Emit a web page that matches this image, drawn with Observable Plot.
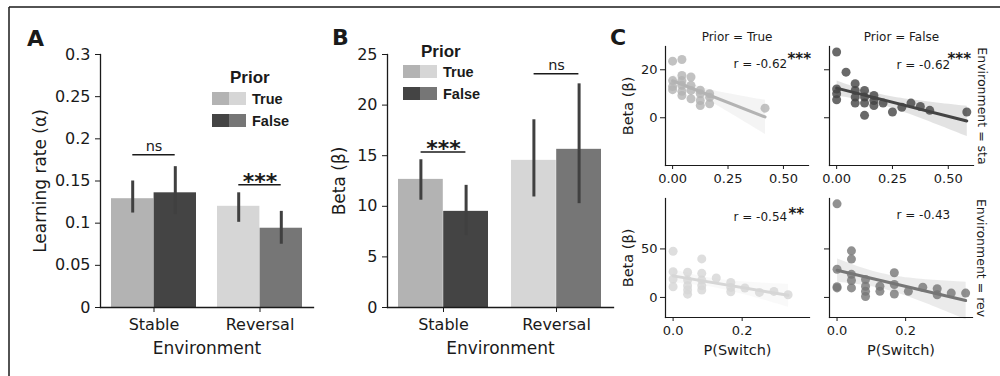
<!DOCTYPE html>
<html>
<head>
<meta charset="utf-8">
<script src="https://cdn.jsdelivr.net/npm/d3@7"></script>
<script src="https://cdn.jsdelivr.net/npm/@observablehq/plot@0.6"></script>
<style>
  body { margin: 0; background: #fff; }
  #fig { position: relative; width: 1000px; height: 376px; overflow: hidden; background: #fff; color: #1a1a1a; font-family: "DejaVu Sans", sans-serif; }
  #fig svg { background: transparent; }
</style>
</head>
<body>
<div id="fig"></div>
<script>
// ---------------- DATA ----------------
const envs = ["Stable", "Reversal"];
const priors = ["True", "False"];
// order: Stable-True, Stable-False, Reversal-True, Reversal-False
const barColors = ["#b3b3b3", "#444444", "#d6d6d6", "#767676"];

const alphaMean = [0.129, 0.136, 0.120, 0.094];
const alphaLo   = [0.112, 0.110, 0.101, 0.075];
const alphaHi   = [0.150, 0.167, 0.136, 0.114];
const alphaTicks = [0, 0.05, 0.1, 0.15, 0.2, 0.25, 0.3];
const alphaSig   = ["ns", "***"];
const alphaSigY  = [0.181, 0.1456];

const betaMean = [12.66, 9.5, 14.54, 15.63];
const betaLo   = [10.6, 7.1, 10.92, 10.26];
const betaHi   = [14.6, 12.07, 18.55, 22.1];
const betaTicks = [0, 5, 10, 15, 20, 25];
const betaSig   = ["***", "ns"];
const betaSigY  = [15.36, 23.1];

// Panel C scatter data: P(Switch) vs Beta
const staTrueX = [0, 0, 0, 0, 0.042, 0.042, 0.042, 0.042, 0.042, 0.042, 0.083, 0.083, 0.083, 0.083, 0.125, 0.125, 0.125, 0.125, 0.167, 0.167, 0.167, 0.417];
const staTrueY = [23.6, 15.5, 13, 11.7, 24.3, 17.6, 15.5, 13.5, 11, 9.3, 17, 13.5, 11.4, 7.9, 11.5, 10, 7.2, 5.1, 10, 8.5, 5.8, 4.0];
const staFalseX = [0, 0, 0, 0, 0.042, 0.083, 0.083, 0.083, 0.083, 0.125, 0.125, 0.125, 0.125, 0.167, 0.167, 0.167, 0.208, 0.25, 0.292, 0.333, 0.375, 0.417, 0.583];
const staFalseY = [27.4, 12, 10, 7.5, 19, 14.2, 11.4, 8.6, 6.1, 11.4, 8.6, 6.1, 1.0, 9.3, 7.2, 5.1, 6.1, 2.4, 4.4, 6.1, 4.7, 3.1, 2.4];
const revTrueX = [0, 0, 0, 0, 0.042, 0.042, 0.042, 0.042, 0.042, 0.083, 0.083, 0.083, 0.083, 0.083, 0.125, 0.167, 0.167, 0.167, 0.208, 0.25, 0.292, 0.333];
const revTrueY = [47.6, 26.6, 19, 11, 25.9, 17.9, 12, 7.6, 3.4, 39.7, 24.8, 17.9, 12, 7.6, 20, 15.5, 10.3, 5.9, 9.7, 5.2, 6.2, 2.8];
const revFalseX = [0, 0, 0, 0, 0.042, 0.042, 0.042, 0.042, 0.042, 0.083, 0.083, 0.083, 0.083, 0.125, 0.125, 0.167, 0.167, 0.167, 0.208, 0.25, 0.292, 0.292, 0.333, 0.375];
const revFalseY = [96.5, 29, 11, 9.8, 48, 39.5, 23.8, 17.5, 9.8, 18.5, 11.5, 6.3, 1, 11.5, 6.3, 25.5, 13.3, 3.5, 6.3, 10.5, 9, 2.8, 4.5, 4.5];
const rTexts = ["r = -0.62", "r = -0.62", "r = -0.54", "r = -0.43"];
const rStars = ["***", "***", "**", ""];
const topXTicks = [0, 0.25, 0.5];
const botXTicks = [0, 0.2];
const topYTicks = [0, 20];
const botYTicks = [0, 50];

// ---------------- HELPERS ----------------
const fig = document.getElementById("fig");
const INK = "#1a1a1a";
function place(el, left, top) {
  const d = document.createElement("div");
  d.style.cssText = `position:absolute;left:${left}px;top:${top}px;`;
  d.appendChild(el);
  fig.appendChild(d);
}

function barPanel(o) {
  const w = o.width - o.mL - o.mR;
  const pi = 0.2, po = 0.1;
  const bw = w / (envs.length - pi + 2 * po) * (1 - pi);
  const rows = [];
  envs.forEach((env, e) => priors.forEach((prior, p) => {
    const k = e * 2 + p;
    rows.push({env, prior, key: env + "|" + prior, value: o.mean[k], lo: o.lo[k], hi: o.hi[k]});
  }));
  const keys = rows.map(r => r.key);
  const sigRows = envs.map((env, i) => ({env, y: o.sigY[i], label: o.sig[i]}));
  const T = rows.filter(r => r.prior === "True"), F = rows.filter(r => r.prior === "False");
  return Plot.plot({
    width: o.width, height: o.height,
    marginLeft: o.mL, marginRight: o.mR, marginTop: o.mT, marginBottom: o.mB,
    style: {fontFamily: "DejaVu Sans", background: "transparent", color: INK, overflow: "visible"},
    x: {type: "band", domain: envs, paddingInner: pi, paddingOuter: po},
    y: {domain: o.yDomain},
    color: {domain: keys, range: barColors},
    marks: [
      Plot.barY(T, {x: "env", y: "value", fill: "key", insetLeft: 0, insetRight: bw / 2}),
      Plot.barY(F, {x: "env", y: "value", fill: "key", insetLeft: bw / 2, insetRight: 0}),
      Plot.ruleX(T, {x: "env", y1: "lo", y2: "hi", dx: -bw / 4, stroke: "#404040", strokeWidth: 3}),
      Plot.ruleX(F, {x: "env", y1: "lo", y2: "hi", dx: bw / 4, stroke: "#404040", strokeWidth: 3}),
      Plot.tickY(sigRows, {x: "env", y: "y", insetLeft: bw / 4, insetRight: bw / 4, stroke: INK, strokeWidth: 1.5}),
      Plot.text(sigRows.filter(d => d.label === "ns"), {x: "env", y: "y", text: "label", lineAnchor: "bottom", dy: -4, fontSize: 14.5, fill: INK}),
      Plot.text(sigRows.filter(d => d.label !== "ns"), {x: "env", y: "y", text: "label", lineAnchor: "middle", dy: -3, fontSize: 22, fontWeight: "bold", fill: INK}),
      Plot.axisY({ticks: o.yTicks, tickFormat: d => String(d), tickSize: 5, tickPadding: 5, label: null, fontSize: 16}),
      Plot.axisX({tickSize: 5, tickPadding: 6, label: null, fontSize: 16}),
      Plot.frame({anchor: "left", stroke: INK, strokeWidth: 1.3}),
      Plot.frame({anchor: "bottom", stroke: INK, strokeWidth: 1.3}),
      Plot.text([o.yLabel], {text: d => d, frameAnchor: "left", textAnchor: "middle", lineAnchor: "middle", rotate: -90, dx: o.yLabelDx, fontSize: 17, fill: INK}),
      Plot.text(["Environment"], {text: d => d, frameAnchor: "bottom", textAnchor: "middle", lineAnchor: "middle", dy: 41, fontSize: 17, fill: INK})
    ]
  });
}

function scatterPanel(o) {
  const data = o.xs.map((x, i) => ({x, y: o.ys[i]}));
  const marks = [
    Plot.dot(data, {x: "x", y: "y", r: 4.5, fill: o.color, fillOpacity: 0.8, stroke: "none"}),
    Plot.linearRegressionY(data, {x: "x", y: "y", stroke: o.line, strokeWidth: 3, fill: o.line, fillOpacity: 0.15, ci: 0.95}),
    Plot.axisX({ticks: o.xTicks, tickFormat: o.xFmt, tickSize: 4, tickPadding: 4, label: null, fontSize: 13}),
    Plot.axisY({ticks: o.yTicks, tickFormat: o.showY ? (d => String(d)) : (() => ""), tickSize: 5, tickPadding: 3, label: null, fontSize: 13}),
    Plot.frame({anchor: "left", stroke: INK, strokeWidth: 1.2}),
    Plot.frame({anchor: "bottom", stroke: INK, strokeWidth: 1.2}),
    Plot.text([o.rText], {text: d => d, frameAnchor: "top-left", textAnchor: "start", lineAnchor: "middle", dx: o.rDx, dy: o.rDy, fontSize: 12, fill: INK})
  ];
  if (o.stars) marks.push(Plot.text([o.stars], {text: d => d, frameAnchor: "top-left", textAnchor: "start", lineAnchor: "middle", dx: o.sDx, dy: o.sDy, fontSize: 15, fontWeight: "bold", fill: INK}));
  if (o.header) marks.push(Plot.text([o.header], {text: d => d, frameAnchor: "top", textAnchor: "middle", lineAnchor: "bottom", dy: -6, fontSize: 12, fill: INK}));
  if (o.rowLabel) marks.push(Plot.text([o.rowLabel], {text: d => d, frameAnchor: "right", textAnchor: "middle", lineAnchor: "middle", rotate: 90, dx: 8, fontSize: 12.5, fill: INK}));
  if (o.showY) marks.push(Plot.text(["Beta (β)"], {text: d => d, frameAnchor: "left", textAnchor: "middle", lineAnchor: "middle", rotate: -90, dx: -37, fontSize: 14.5, fill: INK}));
  if (o.xLabel) marks.push(Plot.text([o.xLabel], {text: d => d, frameAnchor: "bottom", textAnchor: "middle", lineAnchor: "middle", dy: 33, fontSize: 14.5, fill: INK}));
  return Plot.plot({
    width: o.width, height: o.height,
    marginLeft: o.mL, marginRight: o.mR, marginTop: o.mT, marginBottom: o.mB,
    style: {fontFamily: "DejaVu Sans", background: "transparent", color: INK, overflow: "visible"},
    x: {domain: o.xDomain},
    y: {domain: o.yDomain},
    marks
  });
}

// ---------------- PANEL A ----------------
place(barPanel({
  width: 330, height: 376, mL: 100, mR: 17, mT: 54, mB: 69,
  mean: alphaMean, lo: alphaLo, hi: alphaHi, yDomain: [0, 0.3], yTicks: alphaTicks,
  sig: alphaSig, sigY: alphaSigY, yLabel: "Learning rate (α)", yLabelDx: -60
}), 0, 0);

// ---------------- PANEL B ----------------
place(barPanel({
  width: 290, height: 376, mL: 57, mR: 7, mT: 54, mB: 69,
  mean: betaMean, lo: betaLo, hi: betaHi, yDomain: [0, 25], yTicks: betaTicks,
  sig: betaSig, sigY: betaSigY, yLabel: "Beta (β)", yLabelDx: -48
}), 330, 0);

// ---------------- PANEL C ----------------
const topX = [-0.032, 0.613], topY = [-19.9, 29.7];
const botX = [-0.022, 0.395], botY = [-20.7, 102];
const fmt2 = d => d.toFixed(2), fmt1 = d => d.toFixed(1);
place(scatterPanel({
  width: 205, height: 170, mL: 55, mR: 7, mT: 26, mB: 25,
  xs: staTrueX, ys: staTrueY, color: barColors[0], line: barColors[0],
  xDomain: topX, yDomain: topY, xTicks: topXTicks, yTicks: topYTicks, xFmt: fmt2, showY: true,
  header: "Prior = True", rText: rTexts[0], rDx: 68, rDy: 18, stars: rStars[0], sDx: 122, sDy: 13
}), 610, 20);
place(scatterPanel({
  width: 185, height: 170, mL: 14, mR: 27, mT: 26, mB: 25,
  xs: staFalseX, ys: staFalseY, color: barColors[1], line: barColors[1],
  xDomain: topX, yDomain: topY, xTicks: topXTicks, yTicks: topYTicks, xFmt: fmt2, showY: false,
  header: "Prior = False", rowLabel: "Environment = sta",
  rText: rTexts[1], rDx: 67, rDy: 19, stars: rStars[1], sDx: 118, sDy: 13
}), 815, 20);
place(scatterPanel({
  width: 205, height: 196, mL: 55, mR: 6, mT: 18, mB: 59,
  xs: revTrueX, ys: revTrueY, color: barColors[2], line: barColors[2],
  xDomain: botX, yDomain: botY, xTicks: botXTicks, yTicks: botYTicks, xFmt: fmt1, showY: true,
  xLabel: "P(Switch)", rText: rTexts[2], rDx: 68, rDy: 19, stars: rStars[2], sDx: 123, sDy: 16
}), 610, 180);
place(scatterPanel({
  width: 185, height: 196, mL: 14, mR: 28, mT: 18, mB: 59,
  xs: revFalseX, ys: revFalseY, color: barColors[3], line: barColors[3],
  xDomain: botX, yDomain: botY, xTicks: botXTicks, yTicks: botYTicks, xFmt: fmt1, showY: false,
  xLabel: "P(Switch)", rowLabel: "Environment = rev",
  rText: rTexts[3], rDx: 67, rDy: 17, stars: rStars[3]
}), 815, 180);

// ---------------- OVERLAY: border, panel letters, legends ----------------
const ov = d3.create("svg").attr("width", 1000).attr("height", 376)
  .style("position", "absolute").style("left", "0px").style("top", "0px").style("pointer-events", "none");
ov.append("line").attr("x1", 9).attr("x2", 1000).attr("y1", 7).attr("y2", 7).attr("stroke", INK).attr("stroke-width", 1.5);
ov.append("line").attr("x1", 9).attr("x2", 9).attr("y1", 7).attr("y2", 376).attr("stroke", INK).attr("stroke-width", 1.5);
const letters = [["A", 27, 46], ["B", 332, 45], ["C", 610, 45]];
letters.forEach(([t, x, y]) => ov.append("text").attr("x", x).attr("y", y).text(t)
  .attr("font-family", "DejaVu Sans").attr("font-weight", "bold").attr("font-size", 22).attr("fill", INK));

function legend(x0, yTitle, yRow1, rowGap) {
  const g = ov.append("g").attr("font-family", "Liberation Sans, Arial, sans-serif").attr("font-weight", "bold").attr("fill", INK);
  g.append("text").attr("x", x0 + 18).attr("y", yTitle).attr("font-size", 17).text("Prior");
  priors.forEach((p, i) => {
    const y = yRow1 + i * rowGap;
    g.append("rect").attr("x", x0).attr("y", y).attr("width", 17).attr("height", 13).attr("fill", barColors[i]);
    g.append("rect").attr("x", x0 + 17).attr("y", y).attr("width", 17).attr("height", 13).attr("fill", barColors[2 + i]);
    g.append("text").attr("x", x0 + 40).attr("y", y + 11.5).attr("font-size", 14.5).text(p);
  });
}
legend(212, 83, 92, 22);
legend(403, 57, 65, 22);
fig.appendChild(ov.node());
</script>
</body>
</html>
